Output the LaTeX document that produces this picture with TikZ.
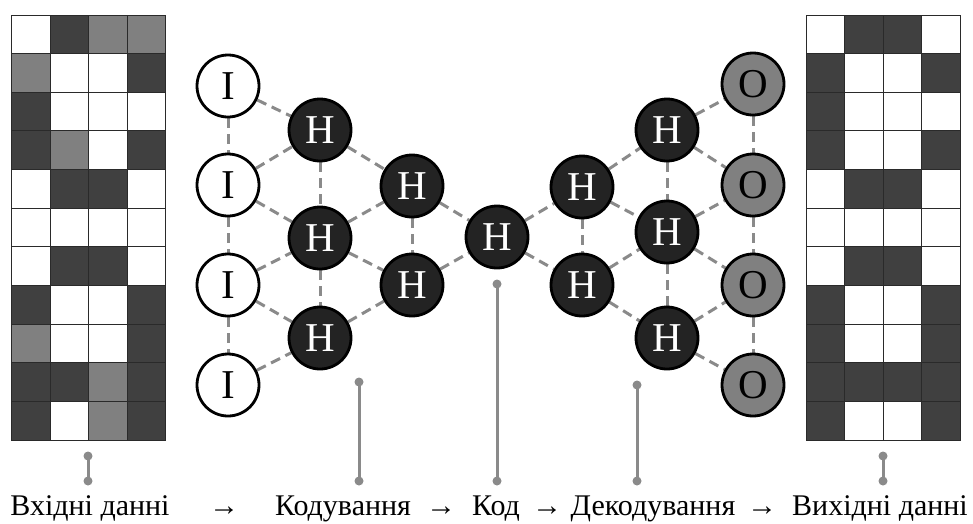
\documentclass[tikz,border=0pt]{standalone}
\usepackage{fontspec}
\setmainfont{Liberation Serif}
\usetikzlibrary{backgrounds}
\definecolor{cW}{HTML}{FFFFFF}
\definecolor{cD}{HTML}{404040}
\definecolor{cG}{HTML}{808080}
\definecolor{nodedark}{HTML}{232323}
\definecolor{edgegray}{HTML}{8A8A8A}
\definecolor{gridline}{HTML}{2A2A2A}
\begin{document}
\begin{tikzpicture}[x=1pt,y=-1pt,
  unit/.style={circle, draw=black, line width=2.8pt, minimum size=62pt, inner sep=0pt, font=\fontsize{41}{44}\selectfont},
  inunit/.style={unit, fill=white},
  hidunit/.style={unit, fill=nodedark, text=white},
  outunit/.style={unit, fill=cG},
  link/.style={draw=edgegray, line width=3pt, dash pattern=on 10pt off 6pt},
  pointer/.style={draw=edgegray, line width=3pt},
  dotend/.style={fill=edgegray},
  lbl/.style={anchor=base, font=\fontsize{30}{36}\selectfont, inner sep=0pt},
  cellbox/.style={draw=gridline, line width=1pt}
]
\useasboundingbox (0,0) rectangle (973,523);

% ---- input grid ----
\foreach \row [count=\r from 0] in {
  {W,D,G,G},{G,W,W,D},{D,W,W,W},{D,G,W,D},{W,D,D,W},{W,W,W,W},
  {W,D,D,W},{D,W,W,D},{G,W,W,D},{D,D,G,D},{D,W,G,D}} {
  \foreach \c [count=\k from 0] in \row {
    \path[cellbox, fill=c\c] ({11.5+38.5*\k},{15+38.636*\r}) rectangle ++(38.5,38.636);
  }
}
% ---- output grid ----
\foreach \row [count=\r from 0] in {
  {W,D,D,W},{D,W,W,D},{D,W,W,W},{D,W,W,D},{W,D,D,W},{W,W,W,W},
  {W,D,D,W},{D,W,W,D},{D,W,W,D},{D,D,D,D},{D,W,W,D}} {
  \foreach \c [count=\k from 0] in \row {
    \path[cellbox, fill=c\c] ({806+38.5*\k},{15+38.636*\r}) rectangle ++(38.5,38.636);
  }
}

% ---- nodes ----
\node[inunit] (i1) at (228,86) {I};
\node[inunit] (i2) at (228,185) {I};
\node[inunit] (i3) at (228,285) {I};
\node[inunit] (i4) at (228,385) {I};

\node[hidunit] (a1) at (320,130) {H};
\node[hidunit] (a2) at (320,238) {H};
\node[hidunit] (a3) at (320,338) {H};

\node[hidunit] (b1) at (412,186) {H};
\node[hidunit] (b2) at (412,285) {H};

\node[hidunit] (c) at (497,237) {H};

\node[hidunit] (d1) at (582,187) {H};
\node[hidunit] (d2) at (582,285) {H};

\node[hidunit] (e1) at (667,130) {H};
\node[hidunit] (e2) at (667,232) {H};
\node[hidunit] (e3) at (667,338) {H};

\node[outunit] (o1) at (753,84) {O};
\node[outunit] (o2) at (753,185) {O};
\node[outunit] (o3) at (753,285) {O};
\node[outunit] (o4) at (753,385) {O};

% ---- edges ----
\begin{scope}[on background layer]
\foreach \u/\v in {i1/i2,i2/i3,i3/i4,
  i1/a1,i2/a1,i2/a2,i3/a2,i3/a3,i4/a3,
  a1/a2,a2/a3,a1/b1,a2/b1,a2/b2,a3/b2,b1/b2,b1/c,b2/c,
  c/d1,c/d2,d1/d2,d1/e1,d1/e2,d2/e2,d2/e3,e1/e2,e2/e3,
  e1/o1,e1/o2,e2/o2,e2/o3,e3/o3,e3/o4,o1/o2,o2/o3,o3/o4}
  \draw[link] (\u) -- (\v);
\end{scope}

% ---- labels ----
\node[lbl] (lin)  at (90,515)  {Вхідні данні};
\node[lbl] (ar1)  at (224,515) {→};
\node[lbl] (lenc) at (343,515) {Кодування};
\node[lbl] (ar2)  at (441,515) {→};
\node[lbl] (lcode) at (496,515) {Код};
\node[lbl] (ar3)  at (547,515) {→};
\node[lbl] (ldec) at (653,515) {Декодування};
\node[lbl] (ar4)  at (762,515) {→};
\node[lbl] (lout) at (880,515) {Вихідні данні};

% ---- pointers ----
\coordinate (pin1) at (88,456);   \coordinate (pin2) at (88,481);
\coordinate (penc1) at (359,382); \coordinate (penc2) at (359,481);
\coordinate (pcod1) at (497,284); \coordinate (pcod2) at (497,481);
\coordinate (pdec1) at (637,385); \coordinate (pdec2) at (637,481);
\coordinate (pout1) at (883,456); \coordinate (pout2) at (883,481);
\foreach \p in {in,enc,cod,dec,out} {
  \draw[pointer] (p\p1) -- (p\p2);
  \fill[dotend] (p\p1) circle (4.5);
  \fill[dotend] (p\p2) circle (4.5);
}
\end{tikzpicture}
\end{document}
